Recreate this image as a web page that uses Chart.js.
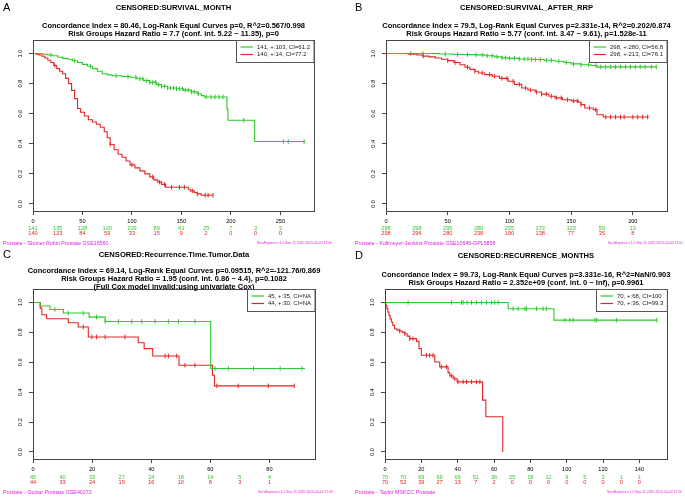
<!DOCTYPE html>
<html><head><meta charset="utf-8">
<script src="https://cdn.jsdelivr.net/npm/chart.js@4.4.0/dist/chart.umd.min.js"></script>
<style>
html,body{margin:0;padding:0;background:#fff;overflow:hidden;width:685px;height:498px}
canvas{position:absolute}
</style></head><body>
<canvas id="cA" width="342" height="249" style="left:0;top:0"></canvas>
<canvas id="cB" width="342" height="249" style="left:343px;top:0"></canvas>
<canvas id="cC" width="342" height="249" style="left:0;top:249px"></canvas>
<canvas id="cD" width="342" height="249" style="left:343px;top:249px"></canvas>
<script>
const GREEN = '#2fc82f', RED = '#e32626', MAGENTA = '#e020e0';
const yTicks = [0, 0.2, 0.4, 0.6, 0.8, 1.0];

// ---- Panel A ----
const aXTicks = [0, 50, 100, 150, 200, 250];
const aGreenT = [0, 10, 15, 20, 25, 30, 35, 40, 45, 50, 55, 60, 65, 70, 75, 80, 90, 98, 105, 112, 118, 125, 130, 136, 145, 152, 160, 166, 170, 173, 196, 197, 224, 275];
const aGreenS = [1, 0.995, 0.99, 0.985, 0.975, 0.968, 0.962, 0.952, 0.94, 0.928, 0.915, 0.9, 0.882, 0.866, 0.858, 0.852, 0.847, 0.842, 0.832, 0.82, 0.808, 0.793, 0.782, 0.771, 0.766, 0.757, 0.745, 0.733, 0.72, 0.711, 0.63, 0.556, 0.415, 0.415];
const aGreenCens = [18, 42, 58, 84, 96, 104, 108, 111, 115, 118, 121, 124, 127, 130, 133, 136, 139, 142, 145, 148, 151, 154, 157, 160, 163, 167, 175, 180, 184, 188, 192, 213, 253, 258, 274];
const aRedT = [0, 3, 6, 9, 12, 15, 18, 21, 24, 27, 30, 33, 36, 39, 42, 45, 48, 52, 56, 60, 64, 68, 72, 75, 78, 82, 86, 90, 94, 98, 103, 108, 113, 118, 122, 126, 130, 134, 157, 159, 163, 166, 170, 182];
const aRedS = [1, 0.995, 0.99, 0.982, 0.97, 0.955, 0.94, 0.92, 0.9, 0.882, 0.866, 0.835, 0.8, 0.755, 0.7, 0.635, 0.61, 0.585, 0.56, 0.545, 0.53, 0.51, 0.48, 0.44, 0.395, 0.36, 0.33, 0.31, 0.285, 0.26, 0.24, 0.22, 0.2, 0.18, 0.16, 0.145, 0.13, 0.111, 0.098, 0.087, 0.076, 0.067, 0.058, 0.058];
const aRedCens = [22, 78, 100, 121, 128, 133, 140, 148, 153, 161, 166, 174, 177, 182];
const aRiskT = [0, 25, 50, 75, 100, 125, 150, 175, 200, 225, 250];
const aRiskG = [141, 135, 128, 120, 109, 89, 61, 25, 7, 3, 3];
const aRiskR = [140, 123, 84, 59, 33, 15, 9, 2, 0, 0, 0];
const aLegend = ['141, +:103, CI=61.2', '140, +:14, CI=77.2'];

// ---- Panel B ----
const bXTicks = [0, 50, 100, 150, 200];
const bGreenT = [0, 43, 55, 65, 72, 80, 88, 94, 100, 108, 118, 128, 137, 144, 150, 158, 166, 171, 219];
const bGreenS = [1, 0.997, 0.994, 0.993, 0.991, 0.985, 0.978, 0.971, 0.968, 0.964, 0.96, 0.955, 0.949, 0.94, 0.931, 0.925, 0.92, 0.911, 0.911];
const bGreenCens = [20, 30, 48, 58, 66, 73, 78, 82, 86, 90, 94, 97, 100, 104, 108, 112, 115, 118, 121, 125, 130, 134, 140, 146, 152, 158, 164, 170, 174, 178, 182, 186, 190, 194, 198, 202, 206, 210, 215, 219];
const bRedT = [0, 18, 25, 30, 35, 40, 45, 50, 55, 60, 64, 68, 72, 75, 80, 86, 92, 99, 104, 110, 115, 121, 126, 132, 137, 143, 150, 156, 158, 161, 168, 171, 176, 213];
const bRedS = [1, 0.995, 0.99, 0.983, 0.978, 0.97, 0.962, 0.953, 0.94, 0.925, 0.909, 0.895, 0.882, 0.871, 0.86, 0.849, 0.835, 0.816, 0.795, 0.771, 0.758, 0.744, 0.73, 0.716, 0.705, 0.693, 0.685, 0.676, 0.66, 0.638, 0.627, 0.593, 0.578, 0.578];
const bRedCens = [30, 50, 56, 66, 72, 78, 84, 88, 94, 98, 103, 108, 113, 117, 122, 126, 130, 134, 138, 142, 147, 152, 155, 158, 165, 170, 178, 182, 186, 190, 193, 200, 204, 208, 212];
const bRiskT = [0, 25, 50, 75, 100, 125, 150, 175, 200];
const bRiskG = [298, 298, 295, 280, 235, 173, 120, 59, 13];
const bRiskR = [298, 296, 280, 238, 190, 138, 77, 35, 8];
const bLegend = ['298, +:280, CI=56.8', '298, +:213, CI=76.1'];

// ---- Panel C ----
const cXTicks = [0, 20, 40, 60, 80];
const cGreenT = [0, 2.4, 5.75, 10.3, 19, 24.4, 60.1, 92];
const cGreenS = [1, 0.976, 0.953, 0.929, 0.902, 0.873, 0.558, 0.558];
const cGreenCens = [2.4, 7.4, 11.9, 17, 21.5, 24.4, 28.9, 33.4, 36.8, 41.3, 45.8, 49.2, 54.8, 61.6, 66.1, 74.6, 83.6, 91];
const cRedT = [0, 2.5, 3, 4.6, 11.95, 15.3, 18.7, 35.6, 37.6, 40.5, 49.4, 60.7, 61.4, 88.4];
const cRedS = [1, 0.962, 0.918, 0.891, 0.864, 0.836, 0.769, 0.731, 0.691, 0.642, 0.58, 0.513, 0.442, 0.442];
const cRedCens = [17, 19.9, 21.5, 24.4, 31.1, 44.7, 45.8, 48.6, 51.4, 54.8, 62.2, 69.4, 79.6, 88.4];
const cRiskT = [0, 10, 20, 30, 40, 50, 60, 70, 80];
const cRiskG = [45, 40, 33, 27, 24, 18, 14, 5, 4];
const cRiskR = [44, 33, 24, 19, 16, 10, 8, 3, 1];
const cLegend = ['45, +:35, CI=NA', '44, +:30, CI=NA'];

// ---- Panel D ----
const dXTicks = [0, 20, 40, 60, 80, 100, 120, 140];
const dGreenT = [0, 67.8, 93, 149.5];
const dGreenS = [1, 0.958, 0.882, 0.882];
const dGreenCens = [12.7, 36.6, 42.1, 43, 45.2, 47.6, 50.3, 53.1, 55.8, 58.6, 60.4, 62.3, 70.5, 73.3, 77, 77.9, 83.4, 87, 88.9, 99, 101.8, 103.6, 115.5, 116.5, 127.5, 149.5];
const dRedT = [0, 0.5, 1.1, 1.6, 2.2, 2.8, 3.5, 4.3, 5.3, 6.5, 8.1, 9.5, 10.9, 12.2, 13.6, 17.3, 18.7, 20, 27.4, 30.1, 34.7, 35.6, 37.5, 39.7, 53.7, 55.5, 64.8];
const dRedS = [1, 0.98, 0.958, 0.935, 0.913, 0.89, 0.869, 0.847, 0.824, 0.815, 0.809, 0.8, 0.791, 0.775, 0.758, 0.74, 0.691, 0.647, 0.602, 0.569, 0.531, 0.509, 0.49, 0.469, 0.347, 0.236, 0];
const dRedCens = [8.1, 10.9, 13.6, 15.4, 22.8, 24.6, 26.4, 31, 33.8, 36.5, 38.4, 40.2, 43, 44.9, 47.6, 50.3, 52.2];
const dRiskT = [0, 10, 20, 30, 40, 50, 60, 70, 80, 90, 100, 110, 120, 130, 140];
const dRiskG = [70, 70, 69, 69, 66, 51, 36, 25, 18, 12, 9, 5, 3, 1, 1];
const dRiskR = [70, 52, 39, 27, 13, 7, 2, 0, 0, 0, 0, 0, 0, 0, 0];
const dLegend = ['70, +:68, CI=100', '70, +:36, CI=99.3'];

const FONT = '"Liberation Sans", Arial, Helvetica, sans-serif';

function stepAt(ts, ss, t) {
  let v = ss[0];
  for (let i = 0; i < ts.length; i++) { if (ts[i] <= t) v = ss[i]; }
  return v;
}
function pts(ts, ss) { return ts.map((t, i) => ({x: t, y: ss[i]})); }
function cens(ts, ss, cs) { return cs.map(t => ({x: t, y: stepAt(ts, ss, t)})); }

function textPlugin(m) {
  return {
    id: 'panelText',
    beforeDraw(chart) {
      const ctx = chart.ctx, ca = chart.chartArea;
      const cx = (ca.left + ca.right) / 2;
      ctx.save();
      ctx.fillStyle = '#000';
      ctx.textAlign = 'left'; ctx.textBaseline = 'alphabetic';
      ctx.font = '11px ' + FONT;
      ctx.fillText(m.letter, m.letterX, m.letterY);
      ctx.textAlign = 'center'; ctx.textBaseline = 'middle';
      ctx.font = 'bold 7.6px ' + FONT;
      ctx.fillText(m.title, cx, m.titleY);
      ctx.font = 'bold 7.5px ' + FONT;
      m.sub.forEach((s, i) => ctx.fillText(s, cx, m.subY + i * 8.3));
      const xs = chart.scales.x;
      ctx.font = '5.6px ' + FONT;
      m.riskT.forEach((t, i) => {
        const px = xs.getPixelForValue(t);
        ctx.fillStyle = GREEN; ctx.fillText(String(m.riskG[i]), px, 228);
        ctx.fillStyle = RED; ctx.fillText(String(m.riskR[i]), px, 233.3);
      });
      ctx.fillStyle = MAGENTA;
      ctx.textAlign = 'left';
      ctx.font = '5.3px ' + FONT;
      ctx.fillText(m.footL, m.footLX, 243.5);
      ctx.textAlign = 'right';
      ctx.font = '3.4px ' + FONT;
      ctx.fillText(m.footR, m.footRX, 243.5);
      ctx.restore();
    },
    afterDraw(chart) {
      const ctx = chart.ctx, ca = chart.chartArea;
      ctx.save();
      ctx.strokeStyle = '#444'; ctx.lineWidth = 1;
      ctx.strokeRect(Math.round(ca.left) + 0.5, Math.round(ca.top) + 0.5, Math.round(ca.right - ca.left), Math.round(ca.bottom - ca.top));
      // legend
      ctx.font = '6px ' + FONT;
      const tw = Math.max(...m.legend.map(s => ctx.measureText(s).width));
      const bw = 4 + 12.5 + 4 + tw + 4;
      const bx = Math.round(ca.right - bw) + 0.5, by = Math.round(ca.top) + 0.5, bh = 22;
      ctx.fillStyle = '#fff';
      ctx.fillRect(bx, by, bw, bh);
      ctx.strokeStyle = '#555';
      ctx.strokeRect(bx, by, bw, bh);
      const cols = [GREEN, RED];
      ctx.textAlign = 'left'; ctx.textBaseline = 'middle';
      m.legend.forEach((s, i) => {
        const ly = by + 6.5 + i * 7.5;
        ctx.strokeStyle = cols[i]; ctx.lineWidth = 1.2;
        ctx.beginPath(); ctx.moveTo(bx + 4, ly); ctx.lineTo(bx + 16.5, ly); ctx.stroke();
        ctx.fillStyle = '#222';
        ctx.fillText(s, bx + 20.5, ly);
      });
      ctx.restore();
    }
  };
}

function makePanel(id, m) {
  const yW = 20, xH = 15;
  const W = 342, H = 249;
  new Chart(document.getElementById(id), {
    type: 'line',
    data: {
      datasets: [
        {data: pts(m.gT, m.gS), borderColor: GREEN, borderWidth: 1.1, stepped: true, pointRadius: 0, fill: false},
        {data: pts(m.rT, m.rS), borderColor: RED, borderWidth: 1.1, stepped: true, pointRadius: 0, fill: false},
        {data: cens(m.gT, m.gS, m.gC), showLine: false, pointStyle: 'line', pointRotation: 90, pointRadius: 2.3, pointBorderWidth: 1, borderColor: GREEN, backgroundColor: GREEN},
        {data: cens(m.rT, m.rS, m.rC), showLine: false, pointStyle: 'line', pointRotation: 90, pointRadius: 2.3, pointBorderWidth: 1, borderColor: RED, backgroundColor: RED}
      ]
    },
    options: {
      responsive: false, animation: false, devicePixelRatio: 1,
      layout: {padding: {left: m.L - yW, top: m.T, right: W - m.R, bottom: H - m.B - xH}},
      plugins: {legend: {display: false}, tooltip: {enabled: false}, title: {display: false}},
      events: [],
      scales: {
        x: {
          type: 'linear', min: 0, max: m.xMax,
          afterBuildTicks: s => { s.ticks = m.xTicks.map(v => ({value: v})); },
          afterFit: s => { s.height = xH; },
          ticks: {font: {size: 5.6, family: FONT}, color: '#000', padding: 3.5, maxRotation: 0, autoSkip: false, callback: v => String(v)},
          grid: {drawOnChartArea: false, drawTicks: true, tickLength: 4, color: '#444'},
          border: {display: true, color: '#444'}
        },
        y: {
          type: 'linear', min: -0.047, max: 1.09,
          afterBuildTicks: s => { s.ticks = yTicks.map(v => ({value: v})); },
          afterFit: s => { s.width = yW; },
          ticks: {font: {size: 5.6, family: FONT}, color: '#000', padding: 5, minRotation: 90, maxRotation: 90, crossAlign: 'center', autoSkip: false, callback: v => v.toFixed(1)},
          grid: {drawOnChartArea: false, drawTicks: true, tickLength: 4, color: '#444'},
          border: {display: true, color: '#444'}
        }
      }
    },
    plugins: [textPlugin(m)]
  });
}

makePanel('cA', {
  L: 33, T: 40, R: 314, B: 211, xMax: 284, xTicks: aXTicks,
  gT: aGreenT, gS: aGreenS, gC: aGreenCens, rT: aRedT, rS: aRedS, rC: aRedCens,
  riskT: aRiskT, riskG: aRiskG, riskR: aRiskR, legend: aLegend,
  letter: 'A', letterX: 3, letterY: 11,
  title: 'CENSORED:SURVIVAL_MONTH', titleY: 7.5,
  sub: ['Concordance Index = 80.46, Log-Rank Equal Curves p=0, R^2=0.567/0.998', 'Risk Groups Hazard Ratio = 7.7 (conf. int. 5.22 ~ 11.35), p=0'], subY: 26,
  footL: 'Prostate - Sboner Rubin Prostate GSE16560', footLX: 3,
  footR: 'SurvExpress v.1.0 Sep 11 2015 2015-10-02 17:00', footRX: 332
});
makePanel('cB', {
  L: 43, T: 40, R: 324, B: 211, xMax: 227.7, xTicks: bXTicks,
  gT: bGreenT, gS: bGreenS, gC: bGreenCens, rT: bRedT, rS: bRedS, rC: bRedCens,
  riskT: bRiskT, riskG: bRiskG, riskR: bRiskR, legend: bLegend,
  letter: 'B', letterX: 12, letterY: 11,
  title: 'CENSORED:SURVIVAL_AFTER_RRP', titleY: 7.5,
  sub: ['Concordance Index = 79.5, Log-Rank Equal Curves p=2.331e-14, R^2=0.202/0.874', 'Risk Groups Hazard Ratio = 5.77 (conf. int. 3.47 ~ 9.61), p=1.528e-11'], subY: 26,
  footL: 'Prostate - Kollmeyer-Jenkins Prostate GSE10645-GPL5858', footLX: 12,
  footR: 'SurvExpress v.1.0 Sep 11 2015 2015-10-02 17:01', footRX: 340
});
makePanel('cC', {
  L: 33, T: 40, R: 315, B: 210, xMax: 95.4, xTicks: cXTicks,
  gT: cGreenT, gS: cGreenS, gC: cGreenCens, rT: cRedT, rS: cRedS, rC: cRedCens,
  riskT: cRiskT, riskG: cRiskG, riskR: cRiskR, legend: cLegend,
  letter: 'C', letterX: 3, letterY: 8.5,
  title: 'CENSORED:Recurrence.Time.Tumor.Data', titleY: 6,
  sub: ['Concordance Index = 69.14, Log-Rank Equal Curves p=0.09515, R^2=-121.76/0.869', 'Risk Groups Hazard Ratio = 1.95 (conf. int. 0.86 ~ 4.4), p=0.1082', '(Full Cox model invalid:using univariate Cox)'], subY: 21.8,
  footL: 'Prostate - Gulzar Prostate GSE40272', footLX: 3,
  footR: 'SurvExpress v.1.0 Sep 11 2015 2015-10-02 17:09', footRX: 333
});
makePanel('cD', {
  L: 42, T: 40, R: 324, B: 210, xMax: 155.2, xTicks: dXTicks,
  gT: dGreenT, gS: dGreenS, gC: dGreenCens, rT: dRedT, rS: dRedS, rC: dRedCens,
  riskT: dRiskT, riskG: dRiskG, riskR: dRiskR, legend: dLegend,
  letter: 'D', letterX: 12, letterY: 10,
  title: 'CENSORED:RECURRENCE_MONTHS', titleY: 7,
  sub: ['Concordance Index = 99.73, Log-Rank Equal Curves p=3.331e-16, R^2=NaN/0.903', 'Risk Groups Hazard Ratio = 2.352e+09 (conf. int. 0 ~ Inf), p=0.9961'], subY: 26,
  footL: 'Prostate - Taylor MSKCC Prostate', footLX: 12,
  footR: 'SurvExpress v.1.0 Sep 11 2015 2015-10-02 17:10', footRX: 339
});
</script>
</body></html>
